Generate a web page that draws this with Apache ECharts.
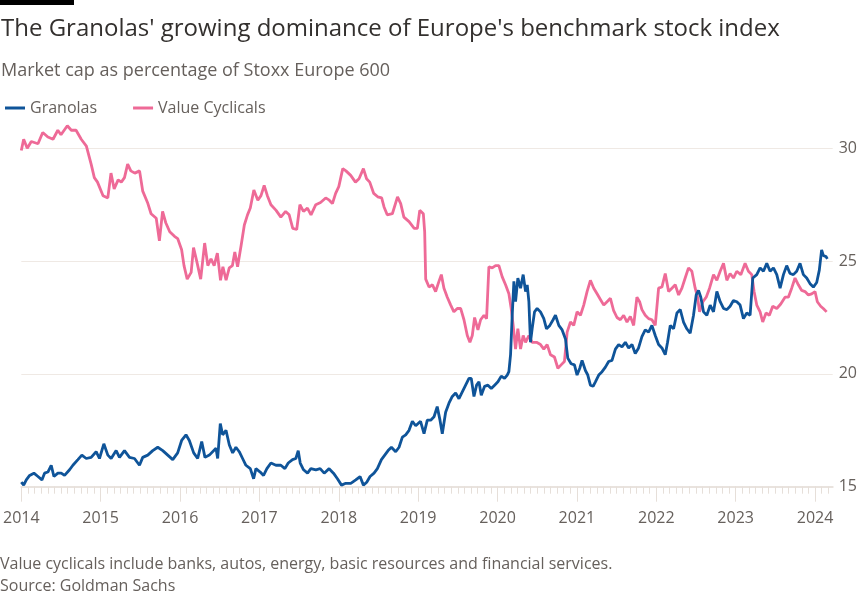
<!DOCTYPE html>
<html>
<head>
<meta charset="utf-8">
<script src="https://cdn.jsdelivr.net/npm/echarts@6/dist/echarts.min.js"></script>
<style>
  html, body { margin: 0; padding: 0; background: #ffffff; }
  #chart { width: 865px; height: 597px; }
</style>
</head>
<body>
<div id="chart"></div>
<script>
// ---- Data ----
const yearTicks = [2014, 2015, 2016, 2017, 2018, 2019, 2020, 2021, 2022, 2023, 2024];

const granolasDates = [
  2014.0, 2014.03, 2014.063, 2014.105, 2014.159, 2014.21, 2014.26, 2014.293, 2014.335, 2014.377,
  2014.411, 2014.461, 2014.503, 2014.545, 2014.608, 2014.65, 2014.713, 2014.763, 2014.818, 2014.88,
  2014.943, 2014.985, 2015.04, 2015.09, 2015.132, 2015.195, 2015.237, 2015.30, 2015.363, 2015.426,
  2015.489, 2015.53, 2015.593, 2015.656, 2015.719, 2015.782, 2015.845, 2015.908, 2015.97, 2016.02,
  2016.075, 2016.117, 2016.172, 2016.222, 2016.273, 2016.314, 2016.369, 2016.453, 2016.474, 2016.507,
  2016.537, 2016.579, 2016.621, 2016.663, 2016.704, 2016.746, 2016.788, 2016.83, 2016.885, 2016.927,
  2016.956, 2017.01, 2017.052, 2017.094, 2017.145, 2017.208, 2017.27, 2017.321, 2017.363, 2017.417,
  2017.459, 2017.489, 2017.514, 2017.556, 2017.606, 2017.648, 2017.711, 2017.765, 2017.816, 2017.878,
  2017.933, 2017.983, 2018.034, 2018.088, 2018.151, 2018.214, 2018.268, 2018.31, 2018.352, 2018.394,
  2018.444, 2018.486, 2018.537, 2018.579, 2018.621, 2018.663, 2018.717, 2018.759, 2018.801, 2018.843,
  2018.885, 2018.927, 2018.969, 2019.03, 2019.074, 2019.115, 2019.158, 2019.20, 2019.24, 2019.275,
  2019.304, 2019.346, 2019.388, 2019.43, 2019.472, 2019.514, 2019.556, 2019.598, 2019.64, 2019.669,
  2019.703, 2019.736, 2019.766, 2019.795, 2019.837, 2019.879, 2019.921, 2019.963, 2020.005, 2020.047,
  2020.088, 2020.122, 2020.143, 2020.164, 2020.185, 2020.206, 2020.227, 2020.256, 2020.29, 2020.323,
  2020.353, 2020.374, 2020.395, 2020.415, 2020.436, 2020.466, 2020.499, 2020.541, 2020.583, 2020.617,
  2020.659, 2020.70, 2020.73, 2020.772, 2020.814, 2020.856, 2020.885, 2020.927, 2020.969, 2021.002,
  2021.036, 2021.065, 2021.107, 2021.137, 2021.17, 2021.204, 2021.233, 2021.275, 2021.317, 2021.359,
  2021.40, 2021.442, 2021.485, 2021.526, 2021.568, 2021.61, 2021.652, 2021.694, 2021.735, 2021.777,
  2021.819, 2021.861, 2021.903, 2021.945, 2021.987, 2022.029, 2022.071, 2022.113, 2022.142, 2022.176,
  2022.218, 2022.26, 2022.302, 2022.343, 2022.385, 2022.427, 2022.469, 2022.503, 2022.532, 2022.561,
  2022.595, 2022.637, 2022.679, 2022.721, 2022.763, 2022.805, 2022.847, 2022.889, 2022.93, 2022.972,
  2023.014, 2023.056, 2023.098, 2023.14, 2023.182, 2023.216, 2023.266, 2023.308, 2023.35, 2023.392,
  2023.434, 2023.476, 2023.518, 2023.56, 2023.602, 2023.643, 2023.685, 2023.727, 2023.769, 2023.811,
  2023.853, 2023.895, 2023.937, 2023.979, 2024.021, 2024.054, 2024.083, 2024.104, 2024.138, 2024.155
];
const granolasValues = [
  15.2, 15.07, 15.3, 15.5, 15.6, 15.45, 15.3, 15.6, 15.65, 15.95,
  15.45, 15.6, 15.6, 15.5, 15.75, 15.95, 16.2, 16.4, 16.25, 16.3,
  16.55, 16.25, 16.9, 16.4, 16.25, 16.6, 16.3, 16.6, 16.3, 16.25,
  15.95, 16.3, 16.4, 16.6, 16.75, 16.6, 16.4, 16.2, 16.5, 17.05,
  17.3, 17.05, 16.5, 16.25, 17.0, 16.3, 16.4, 16.7, 16.25, 17.8,
  17.3, 17.5, 16.85, 16.5, 16.75, 16.55, 16.25, 15.95, 15.8, 15.35,
  15.8, 15.65, 15.5, 15.8, 16.05, 15.95, 15.95, 15.8, 16.05, 16.2,
  16.25, 16.6, 16.05, 15.75, 15.6, 15.8, 15.75, 15.8, 15.6, 15.8,
  15.6, 15.35, 15.07, 15.15, 15.15, 15.3, 15.45, 15.07, 15.2, 15.45,
  15.6, 15.8, 16.2, 16.4, 16.6, 16.75, 16.55, 16.75, 17.2, 17.3,
  17.5, 17.9, 17.7, 17.9, 17.35, 17.95, 17.95, 18.1, 18.55, 17.95,
  17.35, 18.3, 18.7, 19.0, 19.15, 18.9, 19.2, 19.5, 19.8, 19.8,
  19.0, 19.5, 19.65, 19.05, 19.45, 19.5, 19.35, 19.5, 19.65, 19.9,
  19.8, 19.95, 20.1, 20.85, 22.6, 24.1, 23.2, 24.25, 23.8, 24.4,
  23.65, 23.95, 23.2, 21.4, 22.0, 22.75, 22.9, 22.75, 22.45, 22.0,
  22.15, 22.4, 22.6, 22.15, 21.95, 21.55, 20.7, 20.45, 20.4, 19.95,
  20.25, 20.6, 20.15, 19.95, 19.5, 19.45, 19.65, 19.95, 20.1, 20.3,
  20.55, 20.6, 21.1, 21.3, 21.2, 21.4, 21.15, 21.3, 20.9, 21.15,
  21.65, 21.95, 21.85, 22.15, 21.7, 21.3, 21.15, 20.85, 21.4, 22.15,
  22.0, 22.7, 22.85, 22.3, 22.0, 21.8, 22.6, 23.5, 23.7, 23.4,
  22.75, 22.6, 23.05, 22.75, 23.65, 23.2, 22.9, 22.85, 23.0, 23.25,
  23.2, 23.05, 22.45, 22.7, 22.6, 24.25, 24.4, 24.7, 24.55, 24.9,
  24.55, 24.7, 24.4, 23.8, 24.4, 24.8, 24.45, 24.4, 24.55, 24.9,
  24.4, 24.25, 24.0, 23.85, 24.05, 24.6, 25.5, 25.25, 25.2, 25.1
];

const cyclicalsDates = [
  2014.0, 2014.03, 2014.075, 2014.126, 2014.21, 2014.27, 2014.335, 2014.40, 2014.46, 2014.50,
  2014.58, 2014.63, 2014.69, 2014.755, 2014.82, 2014.88, 2014.92, 2014.96, 2015.03, 2015.09,
  2015.13, 2015.17, 2015.22, 2015.26, 2015.30, 2015.34, 2015.38, 2015.43, 2015.49, 2015.53,
  2015.59, 2015.635, 2015.70, 2015.74, 2015.78, 2015.82, 2015.87, 2015.93, 2015.97, 2016.02,
  2016.05, 2016.09, 2016.14, 2016.17, 2016.21, 2016.26, 2016.31, 2016.35, 2016.39, 2016.43,
  2016.47, 2016.51, 2016.54, 2016.58, 2016.62, 2016.66, 2016.69, 2016.725, 2016.77, 2016.81,
  2016.85, 2016.885, 2016.93, 2016.98, 2017.02, 2017.06, 2017.10, 2017.145, 2017.21, 2017.27,
  2017.33, 2017.375, 2017.42, 2017.47, 2017.51, 2017.555, 2017.605, 2017.65, 2017.71, 2017.77,
  2017.835, 2017.88, 2017.92, 2017.96, 2018.00, 2018.05, 2018.09, 2018.15, 2018.21, 2018.255,
  2018.31, 2018.35, 2018.39, 2018.44, 2018.49, 2018.54, 2018.57, 2018.61, 2018.675, 2018.74,
  2018.78, 2018.82, 2018.885, 2018.95, 2018.99, 2019.02, 2019.065, 2019.082, 2019.095, 2019.137,
  2019.18, 2019.22, 2019.262, 2019.292, 2019.325, 2019.367, 2019.41, 2019.45, 2019.493, 2019.535,
  2019.577, 2019.619, 2019.652, 2019.682, 2019.711, 2019.753, 2019.787, 2019.829, 2019.862, 2019.891,
  2019.933, 2019.975, 2020.017, 2020.059, 2020.101, 2020.143, 2020.172, 2020.197, 2020.227, 2020.256,
  2020.29, 2020.323, 2020.353, 2020.395, 2020.436, 2020.491, 2020.541, 2020.583, 2020.625, 2020.667,
  2020.717, 2020.76, 2020.801, 2020.843, 2020.877, 2020.919, 2020.96, 2021.002, 2021.045, 2021.086,
  2021.128, 2021.17, 2021.212, 2021.254, 2021.296, 2021.338, 2021.38, 2021.422, 2021.463, 2021.505,
  2021.547, 2021.589, 2021.631, 2021.673, 2021.715, 2021.756, 2021.79, 2021.819, 2021.861, 2021.903,
  2021.945, 2021.987, 2022.029, 2022.071, 2022.113, 2022.155, 2022.197, 2022.239, 2022.281, 2022.323,
  2022.364, 2022.406, 2022.448, 2022.49, 2022.52, 2022.545, 2022.587, 2022.629, 2022.671, 2022.721,
  2022.763, 2022.805, 2022.847, 2022.889, 2022.93, 2022.972, 2023.014, 2023.065, 2023.119, 2023.161,
  2023.203, 2023.232, 2023.266, 2023.308, 2023.341, 2023.383, 2023.425, 2023.467, 2023.518, 2023.568,
  2023.622, 2023.664, 2023.706, 2023.748, 2023.79, 2023.832, 2023.874, 2023.916, 2023.958, 2024.0,
  2024.029, 2024.071, 2024.104, 2024.146
];
const cyclicalsValues = [
  29.9, 30.4, 30.0, 30.3, 30.2, 30.7, 30.5, 30.4, 30.8, 30.6,
  31.0, 30.8, 30.8, 30.4, 30.1, 29.3, 28.7, 28.5, 27.9, 27.8,
  28.9, 28.2, 28.6, 28.5, 28.7, 29.3, 29.0, 28.9, 29.0, 28.1,
  27.6, 27.1, 26.9, 25.9, 27.2, 26.7, 26.3, 26.1, 26.0, 25.5,
  24.8, 24.2, 24.5, 25.6, 25.0, 24.2, 25.8, 24.8, 25.1, 24.8,
  25.35, 24.15, 24.75, 24.15, 24.7, 24.8, 25.4, 24.75, 25.7, 26.6,
  27.05, 27.35, 28.15, 27.7, 27.9, 28.35, 27.9, 27.5, 27.25, 26.95,
  27.2, 27.05, 26.45, 26.4, 27.5, 27.2, 27.35, 27.05, 27.5, 27.6,
  27.8, 27.7, 27.55, 28.0, 28.3, 29.1, 29.0, 28.8, 28.5, 28.65,
  29.1, 28.65, 28.5, 28.0, 27.85, 27.8, 27.4, 27.05, 27.1, 27.85,
  27.55, 26.95, 26.75, 26.45, 26.45, 27.25, 27.1, 26.3, 24.2, 23.85,
  23.95, 23.65, 24.1, 24.4, 23.8, 23.4, 23.05, 22.75, 22.9, 22.9,
  22.4, 21.7, 21.4, 21.7, 22.5, 21.95, 22.4, 22.6, 22.45, 24.75,
  24.7, 24.8, 24.8, 24.3, 23.95, 23.55, 22.9, 22.15, 21.1, 22.0,
  21.1, 21.7, 21.4, 21.7, 21.4, 21.4, 21.3, 21.1, 21.3, 20.85,
  20.75, 20.25, 20.4, 20.55, 21.85, 22.3, 22.15, 22.75, 22.6, 23.05,
  23.65, 24.15, 23.8, 23.55, 23.3, 23.05, 23.2, 23.35, 22.8, 22.5,
  22.4, 22.6, 22.3, 22.55, 22.15, 23.4, 23.2, 22.85, 22.6, 22.45,
  22.4, 22.15, 23.8, 23.85, 24.45, 23.65, 23.8, 23.95, 23.5, 23.8,
  24.25, 24.7, 24.55, 23.8, 23.4, 22.75, 23.2, 23.4, 23.8, 24.4,
  24.15, 24.55, 24.9, 24.15, 24.45, 24.25, 24.55, 24.4, 24.9, 24.55,
  24.4, 23.65, 23.05, 22.75, 22.3, 22.7, 22.6, 23.0, 22.9, 23.1,
  23.4, 23.4, 23.8, 24.25, 23.95, 23.7, 23.65, 23.5, 23.55, 23.65,
  23.2, 23.0, 22.9, 22.75
];

// ---- Build chart ----
const pair = (xs, ys) => xs.map((x, i) => [x, ys[i]]);
const monthTicks = [];
for (let i = 0; i <= 122; i++) monthTicks.push(2014 + i / 12);

const FONT = 'Open Sans, Noto Sans, sans-serif';
const GREY = '#66605c';
const TICK = '#e6dfd9';

const chart = echarts.init(document.getElementById('chart'), null, { renderer: 'canvas' });
chart.setOption({
  animation: false,
  backgroundColor: '#ffffff',
  textStyle: { fontFamily: FONT },
  graphic: [
    { type: 'rect', left: 0, top: 0, shape: { width: 74, height: 5 }, style: { fill: '#000000' } },
    { type: 'text', x: 1, y: 29, style: { text: "The Granolas' growing dominance of Europe's benchmark stock index", fill: '#33302e', font: '24px ' + FONT, verticalAlign: 'middle' } },
    { type: 'text', x: 1, y: 70.5, style: { text: 'Market cap as percentage of Stoxx Europe 600', fill: GREY, font: '18px ' + FONT, verticalAlign: 'middle' } },
    { type: 'text', x: 0, y: 564.5, style: { text: 'Value cyclicals include banks, autos, energy, basic resources and financial services.', fill: GREY, font: '16px ' + FONT, verticalAlign: 'middle' } },
    { type: 'text', x: 0, y: 586, style: { text: 'Source: Goldman Sachs', fill: GREY, font: '16px ' + FONT, verticalAlign: 'middle' } }
  ],
  legend: {
    left: 0, top: 95,
    icon: 'rect', itemWidth: 20, itemHeight: 3, itemGap: 36,
    textStyle: { fontSize: 16, color: GREY, fontFamily: FONT },
    data: ['Granolas', 'Value Cyclicals']
  },
  grid: { left: 20, right: 32.3, top: 148.3, bottom: 110.3, containLabel: false },
  xAxis: [
    {
      type: 'value', min: 2014, max: 2024.2226, position: 'bottom',
      splitLine: { show: false },
      axisLine: { show: true, lineStyle: { color: '#e9e3de', width: 2 } },
      axisTick: { show: true, customValues: yearTicks, length: 15, lineStyle: { color: TICK, width: 1 } },
      axisLabel: { show: true, customValues: yearTicks, margin: 24, color: GREY, fontSize: 16, fontFamily: FONT, formatter: v => String(Math.round(v)) }
    },
    {
      type: 'value', min: 2014, max: 2024.2226, position: 'bottom',
      splitLine: { show: false },
      axisLine: { show: false },
      axisTick: { show: true, customValues: monthTicks, length: 7, lineStyle: { color: TICK, width: 1 } },
      axisLabel: { show: false }
    }
  ],
  yAxis: {
    type: 'value', position: 'right', min: 15, max: 30, interval: 5,
    axisLine: { show: false }, axisTick: { show: false },
    splitLine: { show: true, lineStyle: { color: '#efe9e4', width: 1 } },
    axisLabel: { margin: 6, color: GREY, fontSize: 16, fontFamily: FONT }
  },
  series: [
    {
      name: 'Granolas', type: 'line', xAxisIndex: 0, showSymbol: false, clip: false, z: 3,
      color: '#0f5499', lineStyle: { width: 2.8, color: '#0f5499' },
      data: pair(granolasDates, granolasValues)
    },
    {
      name: 'Value Cyclicals', type: 'line', xAxisIndex: 0, showSymbol: false, clip: false, z: 2,
      color: '#ee6a97', lineStyle: { width: 2.8, color: '#ee6a97' },
      data: pair(cyclicalsDates, cyclicalsValues)
    }
  ]
});
</script>
</body>
</html>
